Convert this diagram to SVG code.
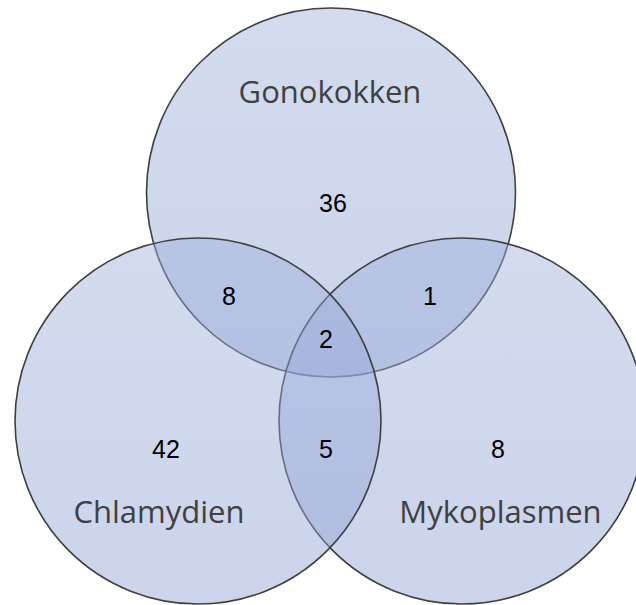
<svg xmlns="http://www.w3.org/2000/svg" width="636" height="605" viewBox="0 0 636 605">
  <defs>
    <!-- soft top-to-bottom shading shared by all three sets -->
    <linearGradient id="setFill" x1="0" y1="0" x2="0" y2="1">
      <stop offset="0" stop-color="#9eafda"/>
      <stop offset="1" stop-color="#8c9fd3"/>
    </linearGradient>
  </defs>
  <style>
    .set { fill: url(#setFill); fill-opacity: 0.45; stroke: #404040; stroke-width: 1.6; }
    .title { font-family: "Open Sans", "Noto Sans", "Liberation Sans", sans-serif; font-size: 31px; fill: #404040; text-anchor: middle; }
    .count { font-family: "Liberation Sans", Arial, sans-serif; font-size: 25px; fill: #000000; text-anchor: middle; }
  </style>
  <rect x="0" y="0" width="636" height="605" fill="#ffffff"/>

  <!-- sets, drawn top, right, left so later fills tint earlier outlines -->
  <g id="gonokokken">
    <circle class="set" cx="331" cy="192.5" r="184.5"/>
    <text class="title" x="330" y="103">Gonokokken</text>
  </g>
  <g id="mykoplasmen">
    <circle class="set" cx="462" cy="421" r="183"/>
  </g>
  <g id="chlamydien">
    <circle class="set" cx="198" cy="421" r="183"/>
  </g>

  <!-- set titles in the lower circles -->
  <g id="labels">
    <text class="title" x="159" y="523">Chlamydien</text>
    <text class="title" x="500.5" y="523">Mykoplasmen</text>
  </g>

  <!-- region counts -->
  <g id="counts">
    <text class="count" x="333" y="212">36</text>
    <text class="count" x="229" y="305">8</text>
    <text class="count" x="430" y="305">1</text>
    <text class="count" x="326" y="348">2</text>
    <text class="count" x="166" y="458">42</text>
    <text class="count" x="326" y="458">5</text>
    <text class="count" x="498" y="458">8</text>
  </g>
</svg>
